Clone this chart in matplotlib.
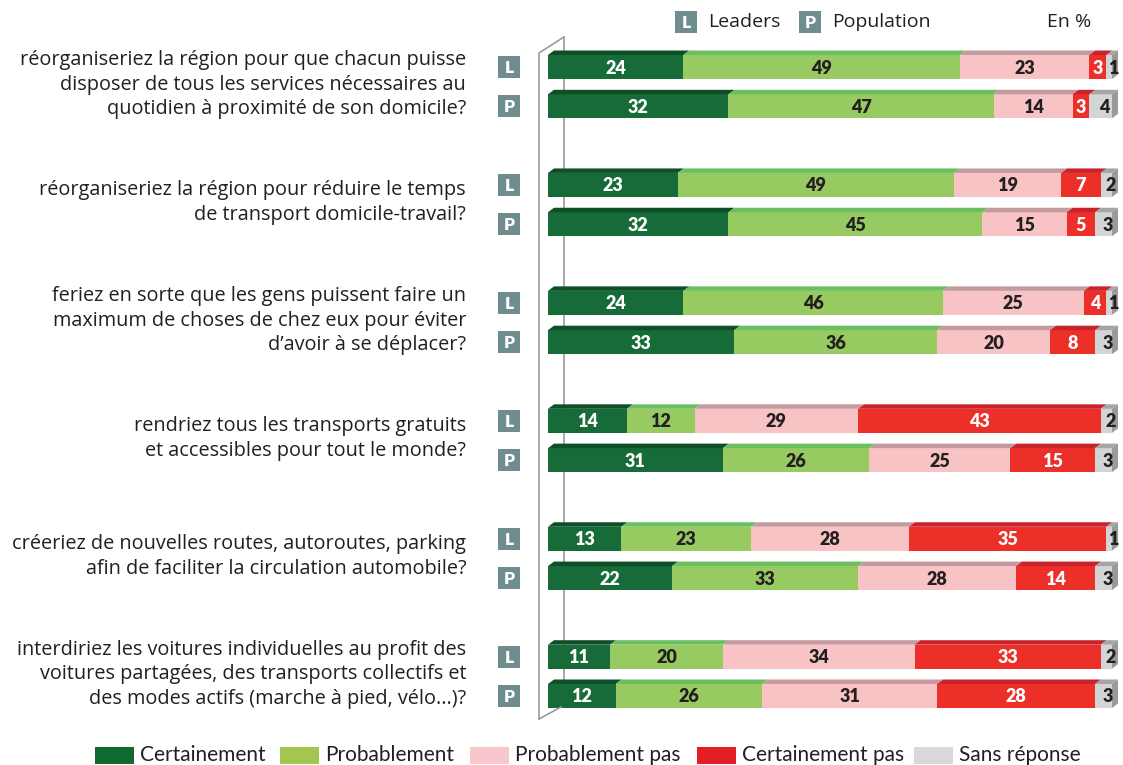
import numpy as np
import matplotlib.pyplot as plt
from matplotlib.patches import Polygon, Rectangle

# données (en %)
questions = [
    "réorganiseriez la région pour que chacun puisse\ndisposer de tous les services nécessaires au\nquotidien à proximité de son domicile?",
    "réorganiseriez la région pour réduire le temps\nde transport domicile-travail?",
    "feriez en sorte que les gens puissent faire un\nmaximum de choses de chez eux pour éviter\nd’avoir à se déplacer?",
    "rendriez tous les transports gratuits\net accessibles pour tout le monde?",
    "créeriez de nouvelles routes, autoroutes, parking\nafin de faciliter la circulation automobile?",
    "interdiriez les voitures individuelles au profit des\nvoitures partagées, des transports collectifs et\ndes modes actifs (marche à pied, vélo...)?",
]
categories = ["Certainement", "Probablement", "Probablement pas", "Certainement pas", "Sans réponse"]

leaders = [
    [24, 49, 23, 3, 1],
    [23, 49, 19, 7, 2],
    [24, 46, 25, 4, 1],
    [14, 12, 29, 43, 2],
    [13, 23, 28, 35, 1],
    [11, 20, 34, 33, 2],
]
population = [
    [32, 47, 14, 3, 4],
    [32, 45, 15, 5, 3],
    [33, 36, 20, 8, 3],
    [31, 26, 25, 15, 3],
    [22, 33, 28, 14, 3],
    [12, 26, 31, 28, 3],
]

front_colors = ["#176b38", "#97cb62", "#f8c3c4", "#ed2f2a", "#d3d4d5"]
top_colors = ["#0f4f28", "#6cbf5e", "#c49a9e", "#c8232a", "#a5a5a5"]
legend_colors = ["#0e6a2e", "#a3c64f", "#f7c7cb", "#e31e24", "#d9d9d9"]
label_colors = ["white", "#231f20", "#231f20", "white", "#231f20"]
side_color = "#9a9a9a"
badge_color = "#6f8c8f"
text_color = "#231f20"

W, H = 1123, 765
fig = plt.figure(figsize=(W / 100, H / 100), dpi=100)
ax = fig.add_axes([0, 0, 1, 1])
ax.axis("off")

# échelle: 0 -> px 548, 100 -> px 1112 ; ligne 0 -> px 67, ligne 16 -> px 696
px_x = 5.64
px_y = (696 - 67) / 16
x0_px, y0_px = 548, 67
ax.set_xlim(-x0_px / px_x, (W - x0_px) / px_x)
ax.set_ylim(16 + (H - 696) / px_y, -y0_px / px_y)

def dx_px(p):
    return p / px_x

def dy_px(p):
    return p / px_y

bar_h = dy_px(24)
ddx, ddy = dx_px(6), dy_px(4.5)

# mur de l'axe (effet 3D)
xf, xb = dx_px(539 - 548), dx_px(564 - 548)
ax.plot([xb, xb], [dy_px(37 - 67), dy_px(707 - 67)], color="#9b9b9b", lw=1.2, zorder=1)
ax.plot([xf, xf, xb], [dy_px(719 - 67), dy_px(53 - 67), dy_px(37 - 67)], color="#9b9b9b", lw=1.2, zorder=5)
ax.plot([xf, dx_px(561 - 548)], [dy_px(719 - 67), dy_px(707 - 67)], color="#9b9b9b", lw=1.2, zorder=5)

def badge(xc, yc, letter):
    s = 22
    ax.add_patch(Rectangle((xc - dx_px(s / 2), yc - dy_px(s / 2)), dx_px(s), dy_px(s),
                           fc=badge_color, ec="none", zorder=4))
    ax.text(xc, yc + dy_px(1), letter, ha="center", va="center", color="white",
            fontsize=12.5, fontweight="heavy", family="Lato", zorder=5)

def draw_row(y, values, letter):
    lefts = np.concatenate([[0], np.cumsum(values)[:-1]])
    ax.barh([y] * len(values), values, left=lefts, height=bar_h,
            color=front_colors, edgecolor="none", zorder=3)
    yt = y - bar_h / 2
    n = len(values)
    for k, (l, v) in enumerate(zip(lefts, values)):
        r = l + v
        ax.add_patch(Polygon([(l, yt), (r, yt), (r + ddx, yt - ddy), (l + ddx, yt - ddy)],
                             closed=True, fc=top_colors[k], ec="none", zorder=3))
        xc = l + v / 2
        if k == n - 1:
            xc += dx_px(4)
        ax.text(xc, y + dy_px(1), str(v), ha="center", va="center",
                fontsize=13, fontweight="heavy", family="Lato",
                color=label_colors[k], zorder=6)
    r = lefts[-1] + values[-1]
    ax.add_patch(Polygon([(r, yt), (r + ddx, yt - ddy), (r + ddx, y + bar_h / 2 - ddy), (r, y + bar_h / 2)],
                         closed=True, fc=side_color, ec="none", zorder=3))
    badge(dx_px(509 - 548), y, letter)

for i, q in enumerate(questions):
    yl, yp = 3 * i, 3 * i + 1
    draw_row(yl, leaders[i], "L")
    draw_row(yp, population[i], "P")
    ax.text(dx_px(466 - 548), (yl + yp) / 2 - dy_px(2), q, ha="right", va="center",
            multialignment="right", fontsize=14.3, family="Open Sans", color=text_color,
            linespacing=1.32)

# légende du haut
ytop = dy_px(22 - 67)
badge(dx_px(686 - 548), ytop, "L")
ax.text(dx_px(708 - 548), ytop, "Leaders", ha="left", va="center", fontsize=14,
        family="Open Sans", color=text_color)
badge(dx_px(810 - 548), ytop, "P")
ax.text(dx_px(832 - 548), ytop, "Population", ha="left", va="center", fontsize=14,
        family="Open Sans", color=text_color)
ax.text(dx_px(1047 - 548), ytop, "En %", ha="left", va="center", fontsize=14,
        family="Open Sans", color=text_color)

# légende du bas
leg_x = [95, 280, 470, 697, 914]
yleg = dy_px(755 - 67)
for px, c, lab in zip(leg_x, legend_colors, categories):
    ax.add_patch(Rectangle((dx_px(px - 548), yleg - dy_px(8.5)), dx_px(39), dy_px(17),
                           fc=c, ec="none", zorder=4))
    ax.text(dx_px(px + 45 - 548), yleg, lab, ha="left", va="center", fontsize=15,
            family="Lato", color=text_color)

fig.savefig("out.png", dpi=100)
